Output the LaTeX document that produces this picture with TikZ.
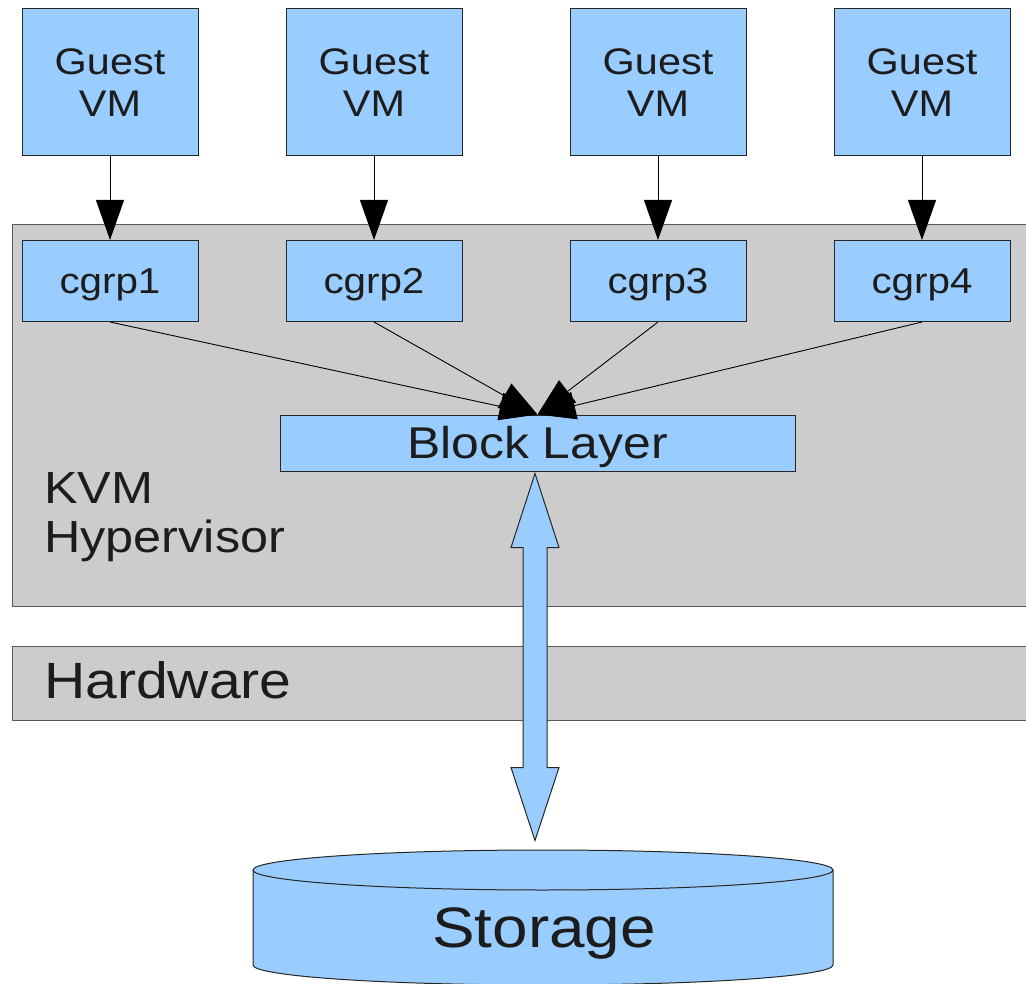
\documentclass[tikz,border=0pt]{standalone}
\usepackage{fontspec}
\setmainfont{Liberation Sans}[FakeStretch=1.12]
\usepackage{xcolor}
\usetikzlibrary{arrows.meta, calc, positioning}
\definecolor{vmblue}{HTML}{99CCFF}
\definecolor{layergray}{HTML}{CCCCCC}
\definecolor{inkgray}{HTML}{1C1C1C}
\tikzset{
    x=1pt, y=-1pt,
    every node/.style={text=inkgray},
    bluebox/.style={draw=black!85, fill=vmblue, line width=1pt, inner sep=0pt}, % blue blocks
    vmbox/.style={bluebox, minimum width=176pt, minimum height=147pt, align=center,
        font=\fontsize{37}{42}\selectfont},
    cgbox/.style={bluebox, minimum width=176pt, minimum height=81pt,
        text height=25pt, text depth=0pt, font=\fontsize{36}{42}\selectfont},
    layerbox/.style={draw=black!65, fill=layergray, line width=1pt, inner sep=0pt, anchor=north west},
    vmarrow/.style={-{Triangle[width=28pt,length=40pt]}, line width=1pt},
    cgarrow/.style={-{Triangle[width=28pt,length=38pt]}, line width=0.9pt},
}
\begin{document}
\begin{tikzpicture}
\useasboundingbox (0,0) rectangle (1026,984);

% layers
\node[layerbox, minimum width=1030pt, minimum height=382pt] (kvm) at (12,224) {};
\node[layerbox, minimum width=1030pt, minimum height=74pt] (hw) at (12,646) {};
\node[anchor=west, inner sep=0pt, align=left, font=\fontsize{45}{49}\selectfont] (kvmtxt) at (44,517) {KVM\\Hypervisor};
\node[anchor=west, inner sep=0pt, font=\fontsize{51}{55}\selectfont] (hwtxt) at (44,680) {Hardware};

% guests and cgroups
\foreach \i/\x in {1/110, 2/374, 3/658, 4/922} {
    \node[vmbox] (g\i) at (\x,82.5) {Guest\\VM};
    \node[cgbox] (c\i) at (\x,281) {cgrp\i};
    \draw[vmarrow] (g\i) -- (c\i);
}

\node[bluebox, minimum width=515pt, minimum height=56pt, text height=31pt, text depth=0pt,
    font=\fontsize{44.5}{49}\selectfont] (blk) at (537.5,443) {Block Layer};
\foreach \i in {1,...,4}
    \draw[cgarrow] (c\i.south) -- (blk.north);

% storage
\draw[draw=black!85, fill=vmblue, line width=1pt] (253,870) -- (253,965)
    arc[start angle=180, end angle=360, x radius=290pt, y radius=20pt] -- (833,870);
\draw[draw=black!85, fill=vmblue, line width=1pt] (543,870) ellipse[x radius=290pt, y radius=20pt];
\node[inner sep=0pt, text height=37pt, text depth=0pt, font=\fontsize{57}{60}\selectfont] (stor) at (544,928.5) {Storage};

% fat two way arrow
\coordinate (up) at ($(blk.south)+(-2.5,2)$);
\coordinate (dn) at ($(up)+(0,367)$);
\draw[draw=black!85, fill=vmblue, line width=1pt, line join=miter]
    (up) -- ++(24,74) -- ++(-12,0) -- ($(dn)+(12,-73)$) -- ++(12,0) -- (dn)
    -- ++(-24,-73) -- ++(12,0) -- ($(up)+(-12,74)$) -- ++(-12,0) -- cycle;
\end{tikzpicture}
\end{document}
